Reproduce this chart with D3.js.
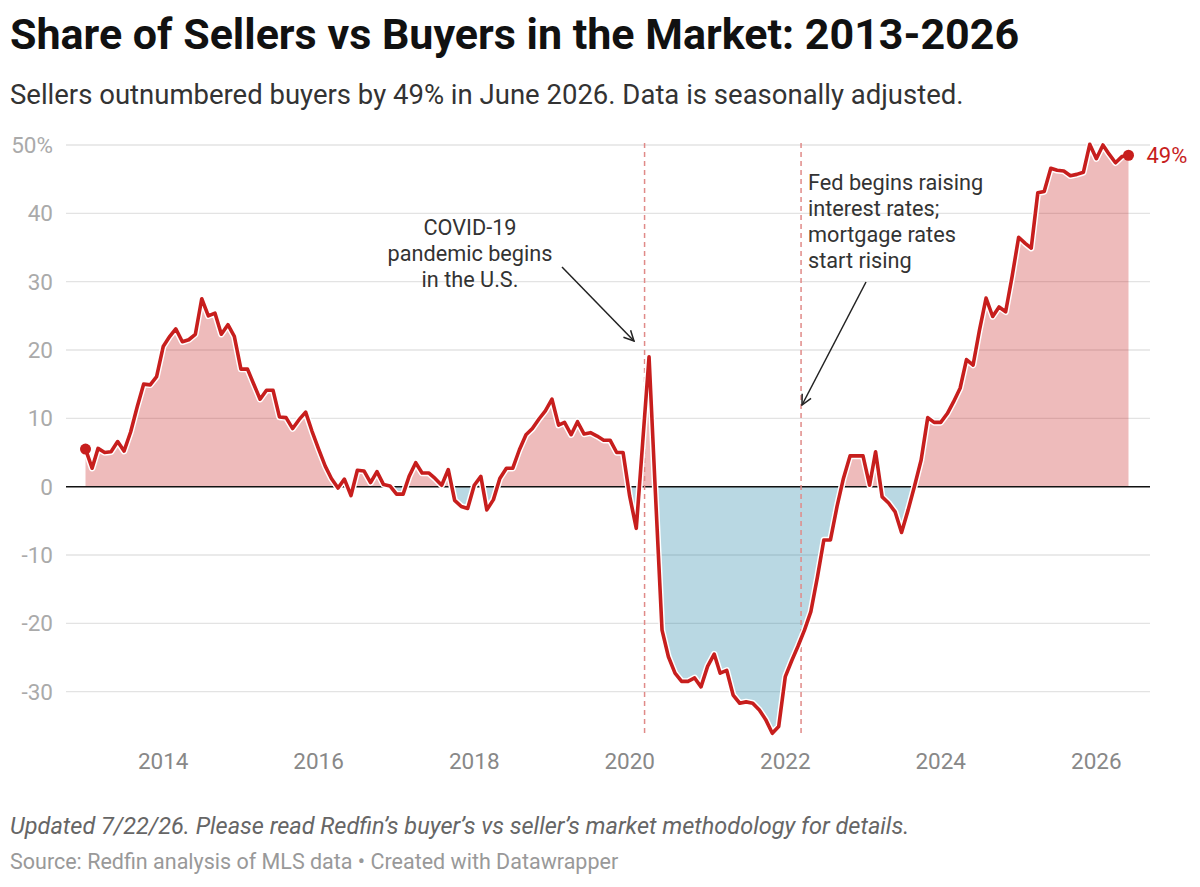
<!DOCTYPE html>
<html>
<head>
<meta charset="utf-8">
<script src="https://cdn.jsdelivr.net/npm/d3@7"></script>
<style>
  html, body { margin: 0; padding: 0; background: #fff; }
  svg { display: block; font-family: Roboto, "Noto Sans", sans-serif; }
</style>
</head>
<body>
<svg id="chart" width="1200" height="887"></svg>
<script>
// Seller/buyer imbalance, monthly, Jan 2013 - Jun 2026 (percent, seasonally adjusted)
const startMonth = new Date(2013, 0, 1);
const endMonth = new Date(2026, 5, 1);
const shares = [
  5.5, 2.7, 5.6, 5.0, 5.1, 6.6, 5.2, 8.0, 11.7, 15.0, 14.9, 16.1,          // 2013
  20.5, 22.0, 23.1, 21.2, 21.5, 22.3, 27.5, 25.0, 25.4, 22.3, 23.7, 22.0,  // 2014
  17.2, 17.2, 15.1, 12.8, 14.1, 14.1, 10.2, 10.1, 8.5, 9.8, 10.9, 8.1,     // 2015
  5.5, 3.0, 1.2, -0.2, 1.1, -1.3, 2.4, 2.3, 0.6, 2.2, 0.3, 0.1,            // 2016
  -1.1, -1.1, 1.5, 3.5, 2.0, 2.0, 1.2, 0.2, 2.5, -2.0, -2.9, -3.2,         // 2017
  0.2, 1.5, -3.4, -1.9, 1.2, 2.7, 2.7, 5.4, 7.6, 8.5, 9.9, 11.1,           // 2018
  12.8, 9.0, 9.4, 7.6, 9.5, 7.7, 7.9, 7.4, 6.8, 6.8, 5.0, 5.0,             // 2019
  -1.4, -6.1, 6.0, 19.0, -1.0, -21.0, -24.9, -27.3, -28.5, -28.5, -28.0, -29.3, // 2020
  -26.3, -24.5, -27.3, -26.9, -30.5, -31.7, -31.5, -31.7, -32.7, -34.1, -36.1, -35.1, // 2021
  -27.8, -25.4, -23.4, -21.0, -18.3, -13.2, -7.8, -7.8, -2.9, 1.2, 4.5, 4.5, // 2022
  4.5, 0.2, 5.1, -1.5, -2.4, -3.7, -6.7, -3.4, 0.2, 3.9, 10.1, 9.4,        // 2023
  9.4, 10.7, 12.4, 14.4, 18.6, 17.8, 22.9, 27.6, 24.9, 26.3, 25.6, 30.7,   // 2024
  36.5, 35.6, 34.9, 43.0, 43.2, 46.6, 46.3, 46.2, 45.5, 45.7, 46.0, 50.1,  // 2025
  48.0, 50.0, 48.7, 47.4, 48.3, 48.5                                       // 2026
];

const yTicks = [-30, -20, -10, 0, 10, 20, 30, 40, 50];
const xTickYears = [2014, 2016, 2018, 2020, 2022, 2024, 2026];

const eventDates = [new Date(2020, 2, 11), new Date(2022, 2, 16)];
const covidNote = ["COVID-19", "pandemic begins", "in the U.S."];
const fedNote = ["Fed begins raising", "interest rates;", "mortgage rates", "start rising"];

const titleText = "Share of Sellers vs Buyers in the Market: 2013-2026";
const subtitleText = "Sellers outnumbered buyers by 49% in June 2026. Data is seasonally adjusted.";
const notesText = "Updated 7/22/26. Please read Redfin\u2019s buyer\u2019s vs seller\u2019s market methodology for details.";
const sourceText = "Source: Redfin analysis of MLS data \u2022 Created with Datawrapper";

const RED = "#c71e1d";

const months = d3.timeMonth.range(startMonth, d3.timeMonth.offset(endMonth, 1));
const data = months.map((d, i) => ({ date: d, value: shares[i] }));

const svg = d3.select("#chart");

const x = d3.scaleTime().domain([startMonth, endMonth]).range([85.5, 1128.5]);
const y = d3.scaleLinear().domain([-36.2, 50]).range([734, 145]);
const gridLeft = 66, gridRight = 1150;

// header
svg.append("text")
  .attr("x", 10).attr("y", 48.5)
  .attr("font-size", 43).attr("font-weight", 700).attr("fill", "#111")
  .text(titleText);
svg.append("text")
  .attr("x", 10).attr("y", 104)
  .attr("font-size", 27.5).attr("fill", "#333")
  .text(subtitleText);

// grid + y axis labels
const grid = svg.append("g");
grid.selectAll("line")
  .data(yTicks.filter(t => t !== 0))
  .join("line")
  .attr("x1", gridLeft).attr("x2", gridRight)
  .attr("y1", d => y(d)).attr("y2", d => y(d))
  .attr("stroke", "#e3e3e3").attr("stroke-width", 1.3);

svg.append("g").selectAll("text")
  .data(yTicks)
  .join("text")
  .attr("x", 53).attr("y", d => y(d))
  .attr("dy", "0.35em")
  .attr("text-anchor", "end")
  .attr("font-size", 22.5).attr("fill", "#aaa")
  .text(d => d === 50 ? "50%" : d);

// x axis labels
svg.append("g").selectAll("text")
  .data(xTickYears)
  .join("text")
  .attr("x", d => x(new Date(d, 0, 1)))
  .attr("y", 768.5)
  .attr("text-anchor", "middle")
  .attr("font-size", 22.5).attr("fill", "#888")
  .text(d => d);

// area fill, split above / below zero
const defs = svg.append("defs");
defs.append("clipPath").attr("id", "clipPos")
  .append("rect").attr("x", 0).attr("y", 0).attr("width", 1200).attr("height", y(0));
defs.append("clipPath").attr("id", "clipNeg")
  .append("rect").attr("x", 0).attr("y", y(0)).attr("width", 1200).attr("height", 887 - y(0));

const area = d3.area()
  .x(d => x(d.date))
  .y0(y(0))
  .y1(d => y(d.value));

svg.append("path").datum(data)
  .attr("d", area)
  .attr("clip-path", "url(#clipPos)")
  .attr("fill", RED).attr("fill-opacity", 0.3);
svg.append("path").datum(data)
  .attr("d", area)
  .attr("clip-path", "url(#clipNeg)")
  .attr("fill", "#167da2").attr("fill-opacity", 0.3);

// zero baseline
svg.append("line")
  .attr("x1", gridLeft).attr("x2", gridRight)
  .attr("y1", y(0)).attr("y2", y(0))
  .attr("stroke", "#111").attr("stroke-width", 1.5);

// event markers
svg.append("g").selectAll("line")
  .data(eventDates)
  .join("line")
  .attr("x1", d => x(d)).attr("x2", d => x(d))
  .attr("y1", 143).attr("y2", 734)
  .attr("stroke", "#e08a88").attr("stroke-width", 1.5)
  .attr("stroke-dasharray", "5,4");

// the line, with white halo
const line = d3.line()
  .x(d => x(d.date))
  .y(d => y(d.value));

svg.append("path").datum(data)
  .attr("d", line)
  .attr("fill", "none")
  .attr("stroke", "#fff").attr("stroke-width", 6.5)
  .attr("stroke-linejoin", "round");
svg.append("path").datum(data)
  .attr("d", line)
  .attr("fill", "none")
  .attr("stroke", RED).attr("stroke-width", 3.6)
  .attr("stroke-linejoin", "round");

const ends = [data[0], data[data.length - 1]];
svg.append("g").selectAll("circle")
  .data(ends)
  .join("circle")
  .attr("cx", d => x(d.date)).attr("cy", d => y(d.value))
  .attr("r", 5.5).attr("fill", RED);

const last = data[data.length - 1];
svg.append("text")
  .attr("x", x(last.date) + 18).attr("y", y(last.value))
  .attr("dy", "0.35em")
  .attr("font-size", 22).attr("fill", RED)
  .text(Math.round(last.value) + "%");

// annotations
defs.append("marker")
  .attr("id", "arrow")
  .attr("viewBox", "0 0 12 12")
  .attr("refX", 11).attr("refY", 6)
  .attr("markerWidth", 12).attr("markerHeight", 12)
  .attr("markerUnits", "userSpaceOnUse")
  .attr("orient", "auto")
  .append("path")
  .attr("d", "M1,1 L11,6 L1,11")
  .attr("fill", "none").attr("stroke", "#222").attr("stroke-width", 1.5);

svg.append("text")
  .attr("text-anchor", "middle")
  .attr("font-size", 21.7).attr("fill", "#333")
  .selectAll("tspan")
  .data(covidNote)
  .join("tspan")
  .attr("x", 470)
  .attr("y", (d, i) => 234.5 + i * 26.3)
  .text(d => d);

svg.append("text")
  .attr("font-size", 21.7).attr("fill", "#333")
  .selectAll("tspan")
  .data(fedNote)
  .join("tspan")
  .attr("x", 808)
  .attr("y", (d, i) => 189.5 + i * 26)
  .text(d => d);

const arrows = [
  { x1: 562, y1: 267, x2: 634, y2: 341 },
  { x1: 866, y1: 282, x2: 802, y2: 405 }
];
svg.append("g").selectAll("line")
  .data(arrows)
  .join("line")
  .attr("x1", d => d.x1).attr("y1", d => d.y1)
  .attr("x2", d => d.x2).attr("y2", d => d.y2)
  .attr("stroke", "#222").attr("stroke-width", 1.5)
  .attr("marker-end", "url(#arrow)");

// footer
svg.append("text")
  .attr("x", 10).attr("y", 834)
  .attr("font-size", 23.5).attr("font-style", "italic").attr("fill", "#666")
  .text(notesText);
svg.append("text")
  .attr("x", 10).attr("y", 869)
  .attr("font-size", 21.5).attr("fill", "#999")
  .text(sourceText);
</script>
</body>
</html>
